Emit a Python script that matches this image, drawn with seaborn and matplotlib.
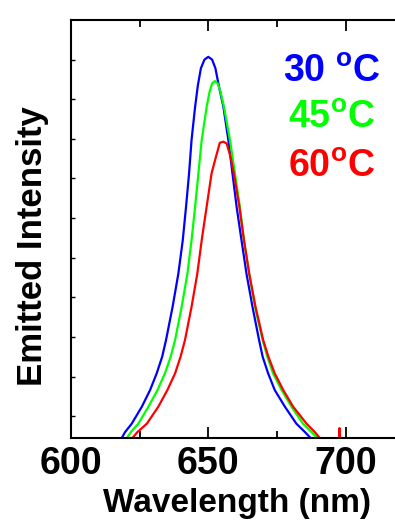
import numpy as np
import pandas as pd
import matplotlib
matplotlib.use("Agg")
import matplotlib.pyplot as plt
import seaborn as sns

# Emission spectra (wavelength in nm, intensity in a.u.)
wl_30 = [617.9, 619.7, 622.1, 625.8, 628.8, 631.2, 633.2, 634.6, 637.0, 639.1, 640.7, 641.9,
         643.0, 643.9, 645.2, 646.2, 647.3, 648.6, 650.0, 651.4, 652.6, 653.8, 655.5, 657.3,
         658.8, 660.3, 662.1, 663.9, 666.1, 668.5, 669.8, 671.8, 674.2, 677.9, 682.1, 685.2,
         688.2]
int_30 = [-0.62, -0.40, -0.19, 0.24, 0.66, 1.08, 1.50, 1.92, 2.76, 3.60, 4.44, 5.29,
          6.13, 6.97, 7.81, 8.35, 8.78, 9.00, 9.07, 9.00, 8.78, 8.35, 7.81, 6.97,
          6.13, 5.29, 4.44, 3.60, 2.76, 1.92, 1.50, 1.08, 0.66, 0.24, -0.19, -0.40,
          -0.62]

wl_45 = [619.7, 621.8, 624.5, 628.2, 631.5, 634.2, 636.3, 637.9, 640.3, 642.4, 643.9, 645.2,
         646.4, 647.6, 649.4, 650.5, 651.4, 652.4, 653.4, 654.4, 655.7, 657.9, 659.7, 661.5,
         663.0, 664.9, 667.0, 669.8, 671.5, 673.6, 676.7, 680.3, 684.5, 687.6, 690.6]
int_45 = [-0.62, -0.40, -0.19, 0.24, 0.66, 1.08, 1.50, 1.92, 2.76, 3.60, 4.44, 5.29,
          6.13, 6.97, 7.81, 8.20, 8.40, 8.46, 8.40, 8.20, 7.81, 6.97, 6.13, 5.29,
          4.44, 3.60, 2.76, 1.92, 1.50, 1.08, 0.66, 0.24, -0.19, -0.40, -0.62]

wl_60 = [621.5, 624.2, 627.6, 631.8, 635.1, 637.9, 639.9, 641.5, 643.9, 646.0, 647.6, 649.4,
         651.2, 652.8, 654.2, 655.5, 656.7, 658.1, 659.3, 661.3, 663.0, 664.9, 667.2, 670.0,
         671.9, 674.2, 677.3, 680.9, 685.8, 688.8, 691.8, 697.7, 697.8, 697.9]
int_60 = [-0.62, -0.40, -0.19, 0.24, 0.66, 1.08, 1.50, 1.92, 2.76, 3.60, 4.44, 5.29,
          6.13, 6.55, 6.90, 6.93, 6.88, 6.55, 6.13, 5.29, 4.44, 3.60, 2.76, 1.92,
          1.50, 1.08, 0.66, 0.24, -0.19, -0.40, -0.65, -0.65, -0.30, -0.65]

labels = ["30 $^{\\mathbf{o}}$C", "45$^{\\mathbf{o}}$C", "60$^{\\mathbf{o}}$C"]
colors = ["#0000ff", "#00ff00", "#ff0000"]

spectra = pd.concat([
    pd.DataFrame({"wl": wl_30, "intensity": int_30, "T": "30"}),
    pd.DataFrame({"wl": wl_45, "intensity": int_45, "T": "45"}),
    pd.DataFrame({"wl": wl_60, "intensity": int_60, "T": "60"}),
])

sns.set_style("ticks")
plt.rcParams["font.family"] = ["Liberation Sans", "DejaVu Sans"]
plt.rcParams["font.weight"] = "bold"
plt.rcParams["text.color"] = "black"
plt.rcParams["axes.labelcolor"] = "black"
plt.rcParams["xtick.color"] = "black"
plt.rcParams["ytick.color"] = "black"
plt.rcParams["mathtext.fontset"] = "custom"
plt.rcParams["mathtext.rm"] = "Liberation Sans:bold"
plt.rcParams["mathtext.bf"] = "Liberation Sans:bold"

fig = plt.figure(figsize=(3.95, 5.23), dpi=100)
ax = fig.add_axes([71 / 395, 85 / 523, 329.5 / 395, 418 / 523])

sns.lineplot(data=spectra, x="wl", y="intensity", hue="T", palette=colors,
             estimator=None, sort=False, linewidth=1.6, legend=False, ax=ax)

ax.set_xlim(600, 720)
ax.set_ylim(-0.55, 10)
ax.set_xticks([600, 650, 700])
ax.set_xticks([625, 675], minor=True)
ax.set_yticks(range(0, 10))
ax.set_yticklabels([])
ax.tick_params(axis="x", which="major", direction="in", top=True, length=8, width=1.3,
               labelsize=27, pad=6, labelcolor="black")
ax.tick_params(axis="x", which="minor", direction="in", top=True, length=5, width=1.3)
ax.tick_params(axis="y", direction="in", length=3, width=1.0)
for lab in ax.get_xticklabels():
    lab.set_fontweight("bold")
for sp in ax.spines.values():
    sp.set_linewidth(1.5)
    sp.set_color("black")

ax.set_xlabel("Wavelength (nm)", fontsize=24, fontweight="bold", color="black")
ax.set_ylabel("Emitted Intensity", fontsize=25, fontweight="bold", color="black")
ax.xaxis.set_label_coords(0.505, -0.12)
ax.yaxis.set_label_coords(-0.066, 0.46)

text_pos = [(283, 82), (288, 128), (288, 177)]
for lab, col, (px, py) in zip(labels, colors, text_pos):
    fig.text(px / 395, 1 - py / 523, lab, color=col, fontsize=27, fontweight="bold",
             ha="left", va="baseline")

fig.savefig("out.png", dpi=100)
